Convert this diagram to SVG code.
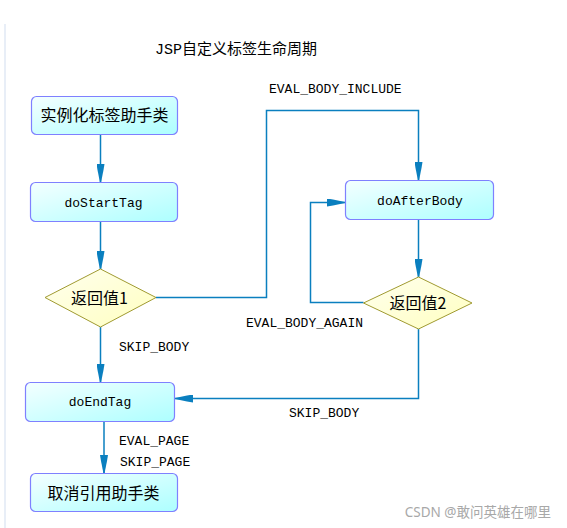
<svg xmlns="http://www.w3.org/2000/svg" width="567" height="528" viewBox="0 0 567 528">
<defs>
<linearGradient id="gBox" x1="0" y1="0" x2="1" y2="1">
<stop offset="0" stop-color="#f4ffff"/>
<stop offset="1" stop-color="#adffff"/>
</linearGradient>
<linearGradient id="gDia" x1="0" y1="0" x2="1" y2="1">
<stop offset="0" stop-color="#ffffee"/>
<stop offset="1" stop-color="#ffffc0"/>
</linearGradient>
<marker id="arr" viewBox="0 0 18 8" markerWidth="18" markerHeight="8" refX="18" refY="4" orient="auto" markerUnits="userSpaceOnUse">
<path d="M0,0 L6,1 L18,3.4 L18,4.6 L6,7 L0,8 Z" fill="#0a7fbf"/>
</marker>
</defs>
<style>
.box{fill:url(#gBox);stroke:#7f80ff;stroke-width:1.2}
.dia{fill:url(#gDia);stroke:#a09a30;stroke-width:1}
.cn{fill:none;stroke:#0a7fbf;stroke-width:1.5}
.cj{font-family:"Noto Sans CJK SC","Liberation Mono",monospace;font-size:16px;fill:#000;text-anchor:middle}
.mono{font-family:"Liberation Mono","Noto Sans CJK SC",monospace;font-size:13px;fill:#000}
.lbl{text-anchor:middle}
</style>
<rect x="0" y="0" width="567" height="528" fill="#ffffff"/>
<rect x="4" y="24" width="2" height="504" fill="#e8eef7"/>
<text x="236" y="53.5" style="font-family:'Liberation Mono','Noto Sans CJK SC',monospace;font-size:15px;text-anchor:middle">JSP自定义标签生命周期</text>

<g id="connectors">
<path class="cn" d="M100.5,134 V182" marker-end="url(#arr)"/>
<path class="cn" d="M100.5,222 V269" marker-end="url(#arr)"/>
<path class="cn" d="M156,297.5 H266.5 V110.5 H418.5 V180" marker-end="url(#arr)"/>
<path class="cn" d="M418.5,219 V277" marker-end="url(#arr)"/>
<path class="cn" d="M363.5,302.5 H310.5 V202.5 H345" marker-end="url(#arr)"/>
<path class="cn" d="M100.5,327 V382" marker-end="url(#arr)"/>
<path class="cn" d="M418.5,329 V398.5 H175" marker-end="url(#arr)"/>
<path class="cn" d="M104,422 V473" marker-end="url(#arr)"/>
<text class="mono" x="269" y="92.5">EVAL_BODY_INCLUDE</text>
<text class="mono" x="246" y="326.5">EVAL_BODY_AGAIN</text>
<text class="mono" x="119" y="350.5">SKIP_BODY</text>
<text class="mono" x="289" y="416.5">SKIP_BODY</text>
<text class="mono" x="119" y="444.5">EVAL_PAGE</text>
<text class="mono" x="120" y="465.5">SKIP_PAGE</text>
</g>

<g id="n1">
<rect class="box" x="31.5" y="96.5" width="146" height="38" rx="5"/>
<text class="cj" x="104.5" y="120.5">实例化标签助手类</text>
</g>
<g id="n2">
<rect class="box" x="30.5" y="182.5" width="147" height="39" rx="5"/>
<text class="mono lbl" x="103.5" y="206.5">doStartTag</text>
</g>
<g id="d1">
<polygon class="dia" points="100.5,269 156,297.5 100.5,327 45,297.5"/>
<text class="cj" x="99.5" y="303.5">返回值1</text>
</g>
<g id="n3">
<rect class="box" x="345.5" y="180.5" width="148" height="39" rx="5"/>
<text class="mono lbl" x="420" y="205">doAfterBody</text>
</g>
<g id="d2">
<polygon class="dia" points="418.5,277 472,303 418.5,329 363.5,303"/>
<text class="cj" x="418" y="308.5">返回值2</text>
</g>
<g id="n4">
<rect class="box" x="25.5" y="382.5" width="149" height="39" rx="5"/>
<text class="mono lbl" x="100" y="406">doEndTag</text>
</g>
<g id="n5">
<rect class="box" x="30.5" y="473.5" width="147" height="38" rx="5"/>
<text class="cj" x="103.5" y="498.5">取消引用助手类</text>
</g>
<text x="551" y="517" style="font-family:'Noto Sans','Noto Sans CJK SC',sans-serif;font-size:13.5px;fill:#a8a8a8;text-anchor:end">CSDN @敢问英雄在哪里</text>
</svg>
